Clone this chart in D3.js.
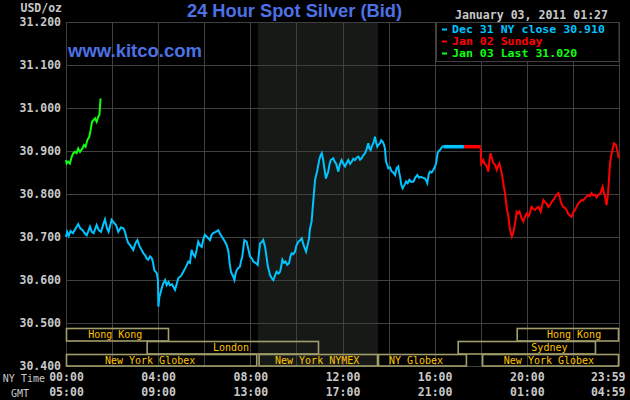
<!DOCTYPE html>
<html><head><meta charset="utf-8">
<script src="https://cdn.jsdelivr.net/npm/d3@7"></script>
<style>html,body{margin:0;padding:0;background:#000;}svg{display:block;}</style>
</head><body>
<svg id="c" width="630" height="400"></svg>
<script>
// ---- data ----
const yTicks = [31.2, 31.1, 31.0, 30.9, 30.8, 30.7, 30.6, 30.5, 30.4];
const xTickHours = [0, 4, 8, 12, 16, 20, 24];
const nyLabels = ["00:00", "04:00", "08:00", "12:00", "16:00", "20:00", "23:59"];
const gmtLabels = ["05:00", "09:00", "13:00", "17:00", "21:00", "01:00", "04:59"];
const nymexShade = [8.33, 13.54];

const cyanHours = [0.00,0.05,0.12,0.20,0.30,0.40,0.53,0.62,0.72,0.82,0.90,1.04,1.12,1.20,1.33,1.42,1.52,1.62,1.69,1.78,1.85,1.98,2.08,2.17,2.27,2.38,2.49,2.56,2.63,2.70,2.78,2.92,3.02,3.10,3.18,3.28,3.36,3.43,3.50,3.57,3.65,3.72,3.78,3.83,3.94,3.99,4.01,4.05,4.08,4.15,4.22,4.30,4.37,4.45,4.51,4.60,4.73,4.80,4.87,5.00,5.09,5.20,5.31,5.38,5.45,5.52,5.60,5.67,5.74,5.82,5.89,5.96,6.03,6.12,6.25,6.32,6.39,6.50,6.61,6.68,6.76,6.83,6.90,6.98,7.05,7.10,7.16,7.24,7.31,7.36,7.41,7.48,7.55,7.60,7.65,7.70,7.74,7.84,7.92,7.99,8.07,8.13,8.22,8.32,8.37,8.42,8.50,8.56,8.64,8.70,8.75,8.85,8.92,9.00,9.07,9.14,9.22,9.29,9.35,9.39,9.46,9.53,9.60,9.68,9.74,9.79,9.86,9.94,10.00,10.08,10.15,10.23,10.32,10.42,10.48,10.55,10.59,10.66,10.70,10.76,10.81,10.91,10.99,11.05,11.10,11.16,11.20,11.28,11.38,11.44,11.49,11.60,11.66,11.72,11.82,11.88,11.96,12.04,12.11,12.18,12.25,12.33,12.40,12.47,12.54,12.62,12.69,12.76,12.83,12.90,12.98,13.05,13.12,13.17,13.22,13.28,13.34,13.41,13.46,13.51,13.57,13.63,13.68,13.74,13.80,13.84,13.89,13.94,13.99,14.06,14.14,14.20,14.28,14.35,14.42,14.46,14.50,14.55,14.61,14.68,14.76,14.83,14.90,14.98,15.08,15.16,15.25,15.32,15.39,15.48,15.58,15.64,15.68,15.74,15.80,15.87,15.94,16.00,16.06,16.13,16.18,16.23,16.30,16.38];
const cyanValues = [30.700,30.712,30.703,30.714,30.709,30.718,30.730,30.720,30.716,30.708,30.704,30.724,30.712,30.709,30.728,30.716,30.712,30.730,30.741,30.720,30.712,30.740,30.733,30.728,30.712,30.722,30.720,30.712,30.697,30.686,30.681,30.670,30.686,30.693,30.680,30.670,30.662,30.658,30.650,30.647,30.655,30.651,30.640,30.623,30.616,30.600,30.538,30.560,30.565,30.580,30.592,30.600,30.588,30.595,30.588,30.590,30.577,30.590,30.604,30.610,30.619,30.630,30.643,30.640,30.670,30.660,30.654,30.670,30.689,30.680,30.677,30.695,30.705,30.700,30.693,30.705,30.709,30.712,30.716,30.708,30.701,30.695,30.689,30.680,30.666,30.640,30.619,30.610,30.600,30.615,30.623,30.628,30.631,30.645,30.654,30.675,30.693,30.689,30.670,30.654,30.650,30.643,30.640,30.635,30.660,30.685,30.688,30.693,30.677,30.655,30.635,30.612,30.605,30.600,30.610,30.619,30.615,30.619,30.635,30.647,30.640,30.643,30.635,30.639,30.655,30.662,30.660,30.666,30.680,30.689,30.692,30.697,30.680,30.666,30.680,30.697,30.720,30.736,30.763,30.802,30.833,30.856,30.879,30.890,30.895,30.880,30.864,30.836,30.852,30.870,30.879,30.883,30.875,30.871,30.852,30.868,30.879,30.870,30.864,30.872,30.879,30.870,30.875,30.882,30.879,30.885,30.887,30.880,30.883,30.890,30.895,30.905,30.918,30.905,30.902,30.912,30.918,30.933,30.920,30.910,30.915,30.918,30.925,30.922,30.915,30.906,30.875,30.868,30.860,30.862,30.852,30.850,30.844,30.860,30.864,30.850,30.840,30.822,30.813,30.820,30.829,30.825,30.833,30.828,30.829,30.838,30.844,30.838,30.840,30.838,30.836,30.830,30.825,30.845,30.852,30.850,30.856,30.862,30.871,30.895,30.900,30.902,30.908,30.912];

const closeFlatHours = [16.38, 17.27];
const sundayFlatHours = [17.27, 18.0];
const closeValue = 30.910;

const redHours = [18.00,18.02,18.11,18.17,18.23,18.28,18.33,18.38,18.43,18.49,18.55,18.62,18.69,18.75,18.81,18.86,18.91,18.98,19.05,19.13,19.20,19.27,19.35,19.40,19.44,19.50,19.56,19.62,19.68,19.78,19.85,19.92,20.00,20.06,20.11,20.16,20.21,20.28,20.36,20.43,20.50,20.55,20.60,20.66,20.72,20.80,20.86,20.93,21.00,21.08,21.15,21.22,21.29,21.36,21.42,21.47,21.53,21.58,21.65,21.72,21.78,21.84,21.94,22.02,22.09,22.16,22.23,22.30,22.38,22.45,22.52,22.60,22.67,22.74,22.81,22.88,22.96,23.03,23.10,23.20,23.29,23.34,23.39,23.46,23.53,23.61,23.68,23.78,23.87,23.94,23.99];
const redValues = [30.906,30.871,30.879,30.870,30.867,30.860,30.852,30.880,30.895,30.882,30.871,30.868,30.856,30.865,30.871,30.860,30.848,30.825,30.802,30.767,30.747,30.716,30.701,30.708,30.716,30.735,30.759,30.755,30.759,30.743,30.736,30.748,30.755,30.748,30.751,30.762,30.770,30.765,30.763,30.768,30.770,30.765,30.759,30.772,30.786,30.780,30.778,30.770,30.774,30.782,30.786,30.792,30.798,30.802,30.795,30.782,30.775,30.770,30.768,30.763,30.755,30.751,30.747,30.758,30.763,30.770,30.778,30.782,30.786,30.785,30.790,30.795,30.798,30.795,30.802,30.797,30.798,30.792,30.798,30.802,30.817,30.805,30.794,30.774,30.805,30.871,30.895,30.918,30.914,30.898,30.883];

const greenHours = [0.00,0.03,0.10,0.17,0.25,0.32,0.39,0.46,0.53,0.61,0.71,0.78,0.85,0.93,1.01,1.07,1.13,1.19,1.26,1.33,1.40,1.45,1.48,1.50];
const greenValues = [30.879,30.871,30.875,30.871,30.887,30.895,30.898,30.895,30.906,30.898,30.906,30.914,30.910,30.926,30.933,30.949,30.968,30.972,30.976,30.968,30.980,30.984,31.007,31.022];

const legendLabels = ["Dec 31 NY close 30.910", "Jan 02 Sunday", "Jan 03 Last 31.020"];
const sessionNames = ["Hong Kong", "Hong Kong", "London", "Sydney", "New York Globex", "New York NYMEX", "NY Globex", "New York Globex"];
const sessionRows = [0, 0, 1, 1, 2, 2, 2, 2];
const sessionStart = [0, 19.56, 3.5, 17.0, 0, 8.36, 13.54, 18.06];
const sessionEnd = [4.47, 24, 10.98, 23.0, 8.3, 13.54, 17.4, 24];
const sessionLabelHour = [2.14, 22.05, 7.16, 20.98, 3.65, 10.9, 15.19, 20.96];

// ---- layout ----
const L = 66, R = 619, T = 22, B = 366;
const cyan = "#00c4ff", red = "#ff0000", green = "#10ff10";
const gridColor = "#404040", textGray = "#c8c8c8", gold = "#ffc400", boxColor = "#a29e6c";
const mono = "'DejaVu Sans Mono', 'Liberation Mono', monospace";
const sans = "'Liberation Sans', Arial, sans-serif";

const svg = d3.select("#c");
svg.append("rect").attr("width", 630).attr("height", 400).attr("fill", "#000");

const x = d3.scaleLinear().domain([0, 24]).range([L, R]);
const y = d3.scaleLinear().domain([30.4, 31.2]).range([B, T]);

// NYMEX shading
svg.append("rect").attr("x", x(nymexShade[0])).attr("y", T)
  .attr("width", x(nymexShade[1]) - x(nymexShade[0])).attr("height", B - T)
  .attr("fill", "#171916");

// grid via axes
const gridV = svg.append("g").attr("transform", `translate(0,${B})`)
  .call(d3.axisBottom(x).tickValues(d3.range(0, 25, 2)).tickSize(-(B - T)).tickFormat(""));
gridV.select(".domain").remove();
gridV.selectAll("line").attr("stroke", gridColor).attr("shape-rendering", "crispEdges");

const yAxis = svg.append("g").attr("transform", `translate(${L},0)`)
  .call(d3.axisLeft(y).tickValues(yTicks).tickSize(-(R - L)).tickPadding(5).tickFormat(d3.format(".3f")));
yAxis.select(".domain").remove();
yAxis.selectAll("line").attr("stroke", gridColor).attr("shape-rendering", "crispEdges");
yAxis.selectAll("text").attr("fill", textGray).attr("font-family", mono).attr("font-weight", "bold")
  .attr("font-size", "11.5px");

// session boxes
const rowTop = [328, 341, 354], rowH = 13;
const sessions = sessionNames.map((n, i) => ({ n, r: sessionRows[i], s: sessionStart[i], e: sessionEnd[i], lh: sessionLabelHour[i] }));
const sg = svg.append("g");
sg.selectAll("rect").data(sessions).join("rect")
  .attr("x", d => x(d.s) + 0.5).attr("y", d => rowTop[d.r] + 0.5)
  .attr("width", d => x(d.e) - x(d.s) - 1).attr("height", d => (d.r === 2 ? B - rowTop[2] : rowH) - 0.5)
  .attr("fill", "none").attr("stroke", boxColor).attr("stroke-width", 1.6);
sg.selectAll("text").data(sessions).join("text")
  .attr("x", d => x(d.lh)).attr("y", d => rowTop[d.r] + 10)
  .attr("text-anchor", "middle").attr("fill", gold).attr("font-family", mono).attr("font-size", "10px")
  .text(d => d.n);

// lines
const line = d3.line().x(d => x(d[0])).y(d => y(d[1]));
const zip = (h, v) => h.map((t, i) => [t, v[i]]);
const drawLine = (pts, color, w) => svg.append("path").datum(pts).attr("d", line)
  .attr("fill", "none").attr("stroke", color).attr("stroke-width", w).attr("stroke-linejoin", "miter");

drawLine(zip(cyanHours, cyanValues), cyan, 2);
drawLine(closeFlatHours.map(h => [h, closeValue]), cyan, 3.5);
drawLine(sundayFlatHours.map(h => [h, closeValue]), red, 3.5);
drawLine(zip(redHours, redValues), red, 2);
drawLine(zip(greenHours, greenValues), green, 2);

// legend
svg.append("rect").attr("x", 436.5).attr("y", T + 0.5).attr("width", R - 436.5).attr("height", 39)
  .attr("fill", "#000").attr("stroke", gridColor);
const legColors = [cyan, red, green];
legendLabels.forEach((t, i) => {
  svg.append("rect").attr("x", 442).attr("y", 28.5 + i * 12).attr("width", 5).attr("height", 2).attr("fill", legColors[i]);
  svg.append("text").attr("x", 452).attr("y", 33 + i * 12).attr("fill", legColors[i])
    .attr("font-family", mono).attr("font-weight", "bold").attr("font-size", "10.5px")
    .attr("textLength", t.length * 6.95).attr("lengthAdjust", "spacingAndGlyphs").text(t);
});

// titles
svg.append("text").attr("x", 187).attr("y", 17).attr("fill", "#4d71e6").attr("font-family", sans)
  .attr("font-weight", "bold").attr("font-size", "17.5px").attr("textLength", 215).attr("lengthAdjust", "spacingAndGlyphs")
  .text("24 Hour Spot Silver (Bid)");
svg.append("text").attr("x", 68).attr("y", 56.5).attr("fill", "#4d71e6").attr("font-family", sans)
  .attr("font-weight", "bold").attr("font-size", "19px").attr("textLength", 134).attr("lengthAdjust", "spacingAndGlyphs")
  .text("www.kitco.com");
svg.append("text").attr("x", 455).attr("y", 19).attr("fill", textGray).attr("font-family", mono)
  .attr("font-weight", "bold").attr("font-size", "11.5px").attr("textLength", 153).attr("lengthAdjust", "spacingAndGlyphs")
  .text("January 03, 2011 01:27");
svg.append("text").attr("x", 62).attr("y", 12).attr("text-anchor", "end").attr("fill", textGray)
  .attr("font-family", mono).attr("font-weight", "bold").attr("font-size", "11.5px").text("USD/oz");

// x axis labels (two rows)
const xAxisNY = svg.append("g").attr("transform", `translate(0,${B + 7})`)
  .call(d3.axisBottom(x).tickValues(xTickHours).tickSize(0).tickPadding(0).tickFormat((d, i) => nyLabels[i]));
const xAxisGMT = svg.append("g").attr("transform", `translate(0,${B + 22})`)
  .call(d3.axisBottom(x).tickValues(xTickHours).tickSize(0).tickPadding(0).tickFormat((d, i) => gmtLabels[i]));
[xAxisNY, xAxisGMT].forEach(g => {
  g.select(".domain").remove();
  g.selectAll("text").attr("fill", textGray).attr("font-family", mono).attr("font-weight", "bold")
    .attr("font-size", "11.5px");
  g.selectAll(".tick").filter(d => d === 24).select("text").attr("text-anchor", "end").attr("dx", "6px");
});
svg.append("text").attr("x", 45).attr("y", 382).attr("text-anchor", "end").attr("fill", textGray)
  .attr("font-family", mono).attr("font-size", "10px").text("NY Time");
svg.append("text").attr("x", 29).attr("y", 397).attr("text-anchor", "end").attr("fill", textGray)
  .attr("font-family", mono).attr("font-size", "10px").text("GMT");
</script>
</body></html>
